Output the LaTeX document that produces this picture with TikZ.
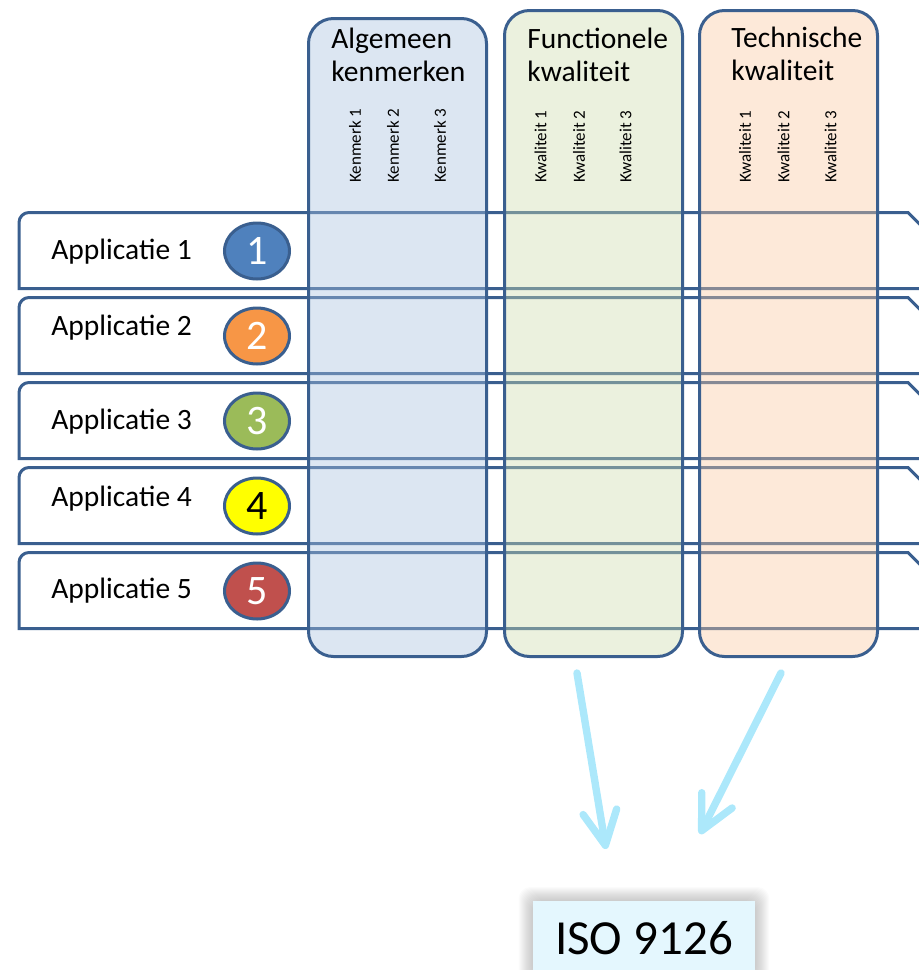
\documentclass[tikz,border=0pt]{standalone}
\usepackage{fontspec}
\setmainfont{Carlito}
\usetikzlibrary{arrows.meta,shapes.geometric,backgrounds,calc}

\definecolor{rand}{RGB}{58,95,143}
\definecolor{kolblauw}{RGB}{168,193,223}
\definecolor{kolgroen}{RGB}{205,220,172}
\definecolor{koloranje}{RGB}{250,200,160}
\definecolor{nrblauw}{RGB}{79,129,189}
\definecolor{nroranje}{RGB}{247,150,70}
\definecolor{nrgroen}{RGB}{155,187,89}
\definecolor{nrgeel}{RGB}{255,255,0}
\definecolor{nrrood}{RGB}{192,80,77}
\definecolor{pijlkleur}{RGB}{172,232,251}
\definecolor{isovul}{RGB}{228,247,254}

\begin{document}
\begin{tikzpicture}[x=0.5pt,y=-0.5pt,
                      rij/.style={draw=rand,line width=1.5pt},
                      kolom/.style={draw=rand,line width=1.5pt,rounded corners=12.5pt,fill opacity=0.4,
                          anchor=north west,inner sep=0pt,minimum width=89pt},
                      kop/.style={anchor=base west,align=left,inner sep=0pt,font=\fontsize{14.75}{16.35}\selectfont},
                      subkop/.style={rotate=90,anchor=west,inner sep=0pt,font=\fontsize{8.5}{10}\selectfont},
                      app/.style={anchor=base west,inner sep=0pt,font=\fontsize{14.75}{17}\selectfont},
                      nummer/.style={ellipse,draw=rand,line width=1.5pt,minimum width=32.5pt,minimum height=28pt,
                          inner sep=0pt,font=\fontsize{21}{21}\selectfont},
                      iso/.style={anchor=north,fill=isovul,minimum width=111pt,minimum height=36.5pt,inner sep=0pt,
                          font=\fontsize{24.5}{24.5}\selectfont},
                      pijl/.style={draw=pijlkleur,line width=3.7pt,line cap=round,
                          -{Straight Barb[length=17pt,width=17pt,line cap=round,line join=round]}}]
                      \useasboundingbox (0,0) rectangle (918,970);

                      \foreach \n/\t/\kleur/\cijfer/\b in {1/212.5/nrblauw/white/46.5, 2/297.5/nroranje/white/38,
                          3/382.5/nrgroen/white/46.5, 4/467.5/nrgeel/black/38.5, 5/552.5/nrrood/white/45.5} {%
                          \draw[rij] (940,\t+76) -- (19,\t+76) [rounded corners=5pt] -- (19,\t) [sharp corners] -- (908,\t) -- (940,\t+32);
                          \node[app] (app\n) at (51,\t+\b) {Applicatie \n};
                          \node[nummer,fill=\kleur,text=\cijfer] (nr\n) at (257,\t+38.5) {\n};
                      };

                      \node[kolom,fill=kolblauw,minimum height=319pt] (algemeen) at (307,17) {};
                      \node[kolom,fill=kolgroen,minimum height=323pt] (functioneel) at (503,9) {};
                      \node[kolom,fill=koloranje,minimum height=323pt] (technisch) at (698,9) {};

                      \node[kop] (kop-alg) at (331,81) {Algemeen\\kenmerken};
                      \node[kop] (kop-fun) at (527,81) {Functionele\\kwaliteit};
                      \node[kop] (kop-tec) at (731,80) {Technische\\kwaliteit};

                      \foreach \x [count=\i] in {355,393,440} {\node[subkop] (kenmerk\i) at (\x,183) {Kenmerk \i};};
                      \foreach \x [count=\i] in {540.5,579,625.5} {\node[subkop] (fkwal\i) at (\x,183) {Kwaliteit \i};};
                      \foreach \x [count=\i] in {745,783.5,830.5} {\node[subkop] (tkwal\i) at (\x,183) {Kwaliteit \i};};

                      \node[iso] (iso) at (644,901) {ISO 9126};
                      \begin{scope}[on background layer]
                          \foreach \s in {1,...,14} {\fill[black,opacity=0.014,rounded corners=6pt]
                              ($(iso.north west)+(-\s,-\s)$) rectangle ($(iso.south east)+(\s,\s)$);};
                      \end{scope}

                      \coordinate (pijl-fun) at (577,673);
                      \coordinate (iso-links) at (606,849);
                      \coordinate (pijl-tec) at (781,673);
                      \coordinate (iso-rechts) at (700,834);
                      \path (pijl-fun) edge[pijl] (iso-links)
                      (pijl-tec)       edge[pijl] (iso-rechts);
                  \end{tikzpicture}
\end{document}
